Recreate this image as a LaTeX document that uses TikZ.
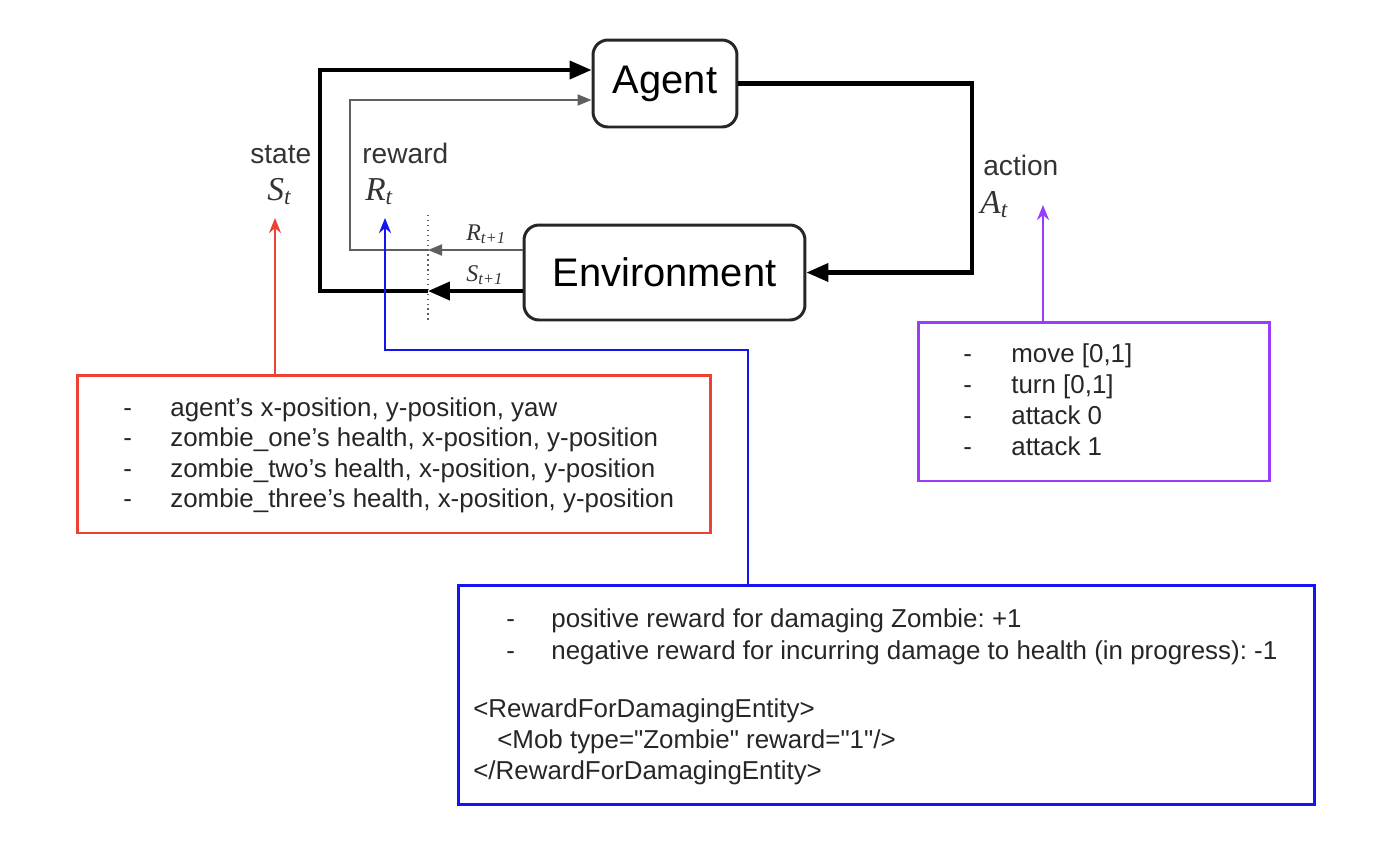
\documentclass[tikz,border=0pt]{standalone}
\usepackage{fontspec}
\setmainfont{Liberation Sans}
\newfontfamily\mathserif{Liberation Serif}
\usetikzlibrary{arrows.meta}
\frenchspacing

\definecolor{statered}{RGB}{236,66,52}
\definecolor{rewardblue}{RGB}{20,20,240}
\definecolor{actionpurple}{RGB}{155,60,250}
\definecolor{thingray}{RGB}{95,95,95}

\newcommand{\rlsym}[2]{{\mathserif\itshape #1\textsubscript{#2}}}

\tikzset{
    block/.style={draw=black!85, line width=1.7pt, rounded corners=0.3cm,
        font=\fontsize{22.7}{26}\selectfont},
    mainflow/.style={line width=2.3pt, -{Triangle[length=0.44cm, width=0.36cm]}},
    sideflow/.style={draw=thingray, line width=1.1pt, -{Triangle[length=0.28cm, width=0.22cm]}},
    infobox/.style={draw, line width=1.7pt, inner sep=0pt},
    infoline/.style={anchor=base west, inner sep=0pt,
        font=\fontsize{14.75}{17}\selectfont, text=black!85},
    pointer/.style={line width=1.4pt, -{Stealth[length=0.3cm, width=0.24cm]}},
    tag/.style={anchor=base west, inner sep=0pt, text=black!80,
        font=\fontsize{16}{19}\selectfont},
}

\begin{document}
\begin{tikzpicture}[x=0.02cm, y=-0.02cm]
        \useasboundingbox (0,0) rectangle (1394,850);

        % agent
        \node [block,
            minimum width=2.88cm,
            minimum height=1.74cm,
        ] (agent) at (665,83.5) {Agent};

        % environment
        \node [block,
            minimum width=5.62cm,
            minimum height=1.9cm,
        ] (env) at (664.5,272.5) {Environment};

        % cut between t+1 and t
        \coordinate (scut) at (428,291);
        \coordinate (rcut) at (428,250);
        \draw [dotted, thingray, line width=0.8pt] (428,215) -- (428,320);

        % action
        \draw [mainflow] (agent.east) -- (agent.east -| 972,0) |- (env.east);

        % state
        \draw [mainflow] (env.west |- scut) -- (scut);
        \draw [mainflow] (scut) -- (320,291) |- (agent.west |- 0,70);

        % reward
        \draw [sideflow] (env.west |- rcut) -- (rcut);
        \draw [sideflow] (rcut) -- (350,250) |- (agent.west |- 0,100);

        % labels
        \node [tag, font=\fontsize{13.6}{16}\selectfont] (rnext) at (466,240) {\rlsym{R}{t+1}};
        \node [tag, font=\fontsize{13.6}{16}\selectfont] (snext) at (466,281) {\rlsym{S}{t+1}};
        \node [tag] (statetag) at (250,163) {state};
        \node [tag, font=\fontsize{19}{22}\selectfont] (statesym) at (267,200) {\rlsym{S}{t}};
        \node [tag] (rewardtag) at (362,163) {reward};
        \node [tag, font=\fontsize{19}{22}\selectfont] (rewardsym) at (365,200) {\rlsym{R}{t}};
        \node [tag] (actiontag) at (983,175) {action};
        \node [tag, font=\fontsize{19}{22}\selectfont] (actionsym) at (980,213) {\rlsym{A}{t}};

        % state box
        \node [infobox, draw=statered,
            minimum width=12.68cm,
            minimum height=3.16cm,
        ] (statebox) at (394,454) {};
        \node [infoline] (sdash1) at (123,416) {-};
        \node [infoline] (sitem1) at (170,416) {agent’s x-position, y-position, yaw};
        \node [infoline] (sdash2) at (123,446) {-};
        \node [infoline] (sitem2) at (170,446) {zombie\_one’s health, x-position, y-position};
        \node [infoline] (sdash3) at (123,477) {-};
        \node [infoline] (sitem3) at (170,477) {zombie\_two’s health, x-position, y-position};
        \node [infoline] (sdash4) at (123,507) {-};
        \node [infoline] (sitem4) at (170,507) {zombie\_three’s health, x-position, y-position};

        % action box
        \node [infobox, draw=actionpurple,
            minimum width=7.04cm,
            minimum height=3.18cm,
        ] (actionbox) at (1094,401.5) {};
        \node [infoline] (adash1) at (963,362) {-};
        \node [infoline] (aitem1) at (1011,362) {move [0,1]};
        \node [infoline] (adash2) at (963,393) {-};
        \node [infoline] (aitem2) at (1011,393) {turn [0,1]};
        \node [infoline] (adash3) at (963,424) {-};
        \node [infoline] (aitem3) at (1011,424) {attack 0};
        \node [infoline] (adash4) at (963,455) {-};
        \node [infoline] (aitem4) at (1011,455) {attack 1};

        % reward box
        \node [infobox, draw=rewardblue,
            minimum width=17.14cm,
            minimum height=4.4cm,
        ] (rewardbox) at (886.5,695) {};
        \node [infoline] (rdash1) at (506,627) {-};
        \node [infoline] (ritem1) at (551,627) {positive reward for damaging Zombie: +1};
        \node [infoline] (rdash2) at (506,659) {-};
        \node [infoline] (ritem2) at (551,659) {negative reward for incurring damage to health (in progress): -1};
        \node [infoline] (rxml1) at (473,717) {<RewardForDamagingEntity>};
        \node [infoline] (rxml2) at (497,748) {<Mob type=\textquotedbl Zombie\textquotedbl{} reward=\textquotedbl 1\textquotedbl/>};
        \node [infoline] (rxml3) at (473,779) {</RewardForDamagingEntity>};

        % pointers
        \coordinate (stip) at (275,218);
        \coordinate (rtip) at (385,218);
        \coordinate (rbend) at (748,350);
        \coordinate (atip) at (1043,205);
        \draw [pointer, statered] (statebox.north -| stip) -- (stip);
        \draw [pointer, rewardblue] (rewardbox.north -| rbend) -- (rbend) -| (rtip);
        \draw [pointer, actionpurple] (actionbox.north -| atip) -- (atip);
        \end{tikzpicture}
\end{document}
